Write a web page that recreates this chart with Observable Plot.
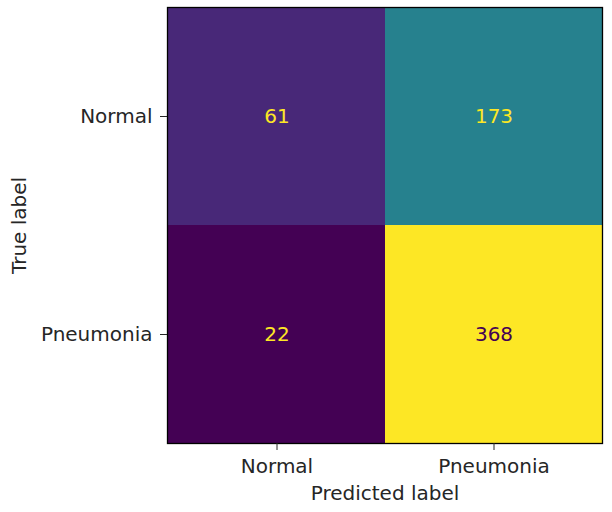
<!DOCTYPE html>
<html>
<head>
<meta charset="utf-8">
<script src="https://cdn.jsdelivr.net/npm/d3@7"></script>
<script src="https://cdn.jsdelivr.net/npm/@observablehq/plot@0.6"></script>
<style>
  html, body { margin: 0; padding: 0; background: #fff; }
  svg { font-family: "DejaVu Sans", sans-serif; }
</style>
</head>
<body>
<div id="chart"></div>
<script>
const trueLabels = ["Normal", "Pneumonia"];
const predictedLabels = ["Normal", "Pneumonia"];
const counts = [
  [61, 173],
  [22, 368]
];

const data = [];
trueLabels.forEach((t, i) => predictedLabels.forEach((p, j) => data.push({ truth: t, pred: p, n: counts[i][j] })));

const vmin = d3.min(data, d => d.n), vmax = d3.max(data, d => d.n);
const lo = d3.interpolateViridis(0), hi = d3.interpolateViridis(1);
const thresh = (vmin + vmax) / 2;

const chart = Plot.plot({
  width: 612,
  height: 512,
  marginLeft: 167,
  marginRight: 10,
  marginTop: 7,
  marginBottom: 69,
  style: { fontFamily: "DejaVu Sans, sans-serif", fontSize: "20px", color: "#262626", background: "#fff" },
  x: { domain: predictedLabels, padding: 0 },
  y: { domain: trueLabels, padding: 0 },
  color: { type: "linear", scheme: "viridis", domain: [vmin, vmax] },
  marks: [
    Plot.cell(data, { x: "pred", y: "truth", fill: "n", inset: 0 }),
    Plot.text(data, { x: "pred", y: "truth", text: d => String(d.n), fill: d => d.n < thresh ? hi : lo, fontSize: 20 }),
    Plot.frame({ stroke: "#000", strokeWidth: 1.3 }),
    Plot.axisX({ tickSize: 7, tickPadding: 8, fontSize: 20, label: "Predicted label", labelAnchor: "center", labelOffset: 56, stroke: "#262626" }),
    Plot.axisY({ tickSize: 7, tickPadding: 8, fontSize: 20, label: "True label", labelAnchor: "center", labelOffset: 156, stroke: "#262626" })
  ]
});
document.getElementById("chart").appendChild(chart);
</script>
</body>
</html>
